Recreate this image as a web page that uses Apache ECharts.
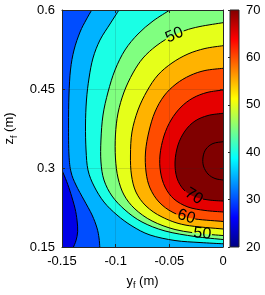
<!DOCTYPE html>
<html>
<head>
<meta charset="utf-8">
<script src="https://cdn.jsdelivr.net/npm/echarts@6/dist/echarts.min.js"></script>
<style>
  html, body { margin: 0; padding: 0; background: #fff; }
  #chart { width: 265px; height: 295px; }
</style>
</head>
<body>
<div id="chart"></div>
<script>
// filled contour of z over (y_f, z_f); band below the lowest contour is 25-30
const BASE_LEVEL = 25;
const LEVELS = [30, 35, 40, 45, 50, 55, 60, 65, 70, 75];

// contour paths as [y_f, z_f] (higher values on the left of travel)
const C30 = [[-0.15, 0.296], [-0.1456, 0.274], [-0.1419, 0.252], [-0.1379, 0.2235], [-0.136, 0.201],
  [-0.1354, 0.179], [-0.137, 0.162], [-0.1393, 0.15]];
const C35 = [[-0.1223, 0.6], [-0.1276, 0.581], [-0.1332, 0.5582], [-0.1388, 0.5241], [-0.1421, 0.4861],
  [-0.1435, 0.4386], [-0.1439, 0.3816], [-0.1435, 0.3247], [-0.1416, 0.2924], [-0.137, 0.2677],
  [-0.1295, 0.2392], [-0.122, 0.2108], [-0.1174, 0.1861], [-0.1155, 0.1671], [-0.1148, 0.15]];
const C40 = [[-0.0969, 0.6], [-0.1053, 0.5734], [-0.1146, 0.543], [-0.1211, 0.5089], [-0.1248, 0.4709],
  [-0.1272, 0.4291], [-0.1281, 0.3816], [-0.1276, 0.3342], [-0.1258, 0.2962], [-0.1202, 0.2658],
  [-0.1109, 0.2354], [-0.0988, 0.2108], [-0.0848, 0.1899], [-0.068, 0.1728], [-0.0447, 0.1623],
  [-0.0214, 0.1585], [0, 0.1561]];
const C45 = [[-0.0494, 0.6], [-0.0652, 0.5791], [-0.0792, 0.5544], [-0.0913, 0.5241], [-0.1006, 0.4861],
  [-0.1071, 0.4443], [-0.1118, 0.4006], [-0.1137, 0.3532], [-0.1137, 0.3114], [-0.1109, 0.2772],
  [-0.1034, 0.2468], [-0.0913, 0.2203], [-0.0755, 0.1975], [-0.054, 0.1804], [-0.0261, 0.1699],
  [0, 0.1642]];
const C50 = [[0, 0.5759], [-0.0214, 0.5687], [-0.0354, 0.5611], [-0.0494, 0.5487], [-0.0624, 0.5316],
  [-0.0745, 0.5089], [-0.0839, 0.4804], [-0.0922, 0.4443], [-0.0978, 0.4044], [-0.1002, 0.3627],
  [-0.1002, 0.319], [-0.0978, 0.281], [-0.0922, 0.2487], [-0.082, 0.2222], [-0.0661, 0.1994],
  [-0.0447, 0.1832], [-0.0214, 0.1756], [0, 0.1718]];
const C55 = [[0, 0.5322], [-0.0168, 0.5269], [-0.0326, 0.5165], [-0.0475, 0.4994], [-0.0606, 0.4766],
  [-0.0708, 0.4462], [-0.0792, 0.4101], [-0.0848, 0.3684], [-0.0862, 0.3247], [-0.0853, 0.2867],
  [-0.0811, 0.2544], [-0.0717, 0.2278], [-0.0568, 0.207], [-0.0354, 0.1918], [0, 0.1842]];
const C60 = [[0, 0.4893], [-0.0168, 0.4851], [-0.0307, 0.4756], [-0.0438, 0.4595], [-0.055, 0.4367],
  [-0.0634, 0.4063], [-0.0689, 0.3703], [-0.0722, 0.3304], [-0.0717, 0.2924], [-0.068, 0.262],
  [-0.0596, 0.2354], [-0.0466, 0.2156], [-0.0289, 0.2041], [0, 0.1985]];
const C65 = [[0, 0.4481], [-0.0149, 0.4434], [-0.028, 0.4329], [-0.0391, 0.4158], [-0.0484, 0.3911],
  [-0.055, 0.3608], [-0.0587, 0.3247], [-0.0582, 0.2924], [-0.054, 0.2639], [-0.0457, 0.2411],
  [-0.0326, 0.2259], [-0.0168, 0.2194], [0, 0.2165]];
const C70 = [[0, 0.4039], [-0.014, 0.3997], [-0.0261, 0.3892], [-0.0354, 0.3703], [-0.0419, 0.3437],
  [-0.0447, 0.3114], [-0.0429, 0.281], [-0.0363, 0.2582], [-0.0261, 0.2449], [-0.013, 0.2392],
  [0, 0.2373]];
const C75 = [[0, 0.3499], [-0.0093, 0.3465], [-0.0158, 0.3361], [-0.0186, 0.3209], [-0.0182, 0.3038],
  [-0.014, 0.2886], [-0.0075, 0.2801], [0, 0.2772]];
const CONTOURS = [C30, C35, C40, C45, C50, C55, C60, C65, C70, C75];

const X_RANGE = [-0.15, 0];
const Y_RANGE = [0.15, 0.6];
const CBAR_RANGE = [20, 70];

// inline contour labels: [level, position along the path in point-index units]
const LABEL_SPOTS = [[50, 2.7], [50, 16.1], [60, 11.7], [70, 7.9]];

const FONT = "'Liberation Sans', Arial, sans-serif";
const INK = "#262626";

function jet(t) {
  t = Math.max(0, Math.min(1, t));
  const c = (v) => Math.round(255 * Math.max(0, Math.min(1, v)));
  return `rgb(${c(1.5 - Math.abs(4 * t - 3))},${c(1.5 - Math.abs(4 * t - 2))},${c(1.5 - Math.abs(4 * t - 1))})`;
}
const levelColor = (l) => jet((l - CBAR_RANGE[0]) / (CBAR_RANGE[1] - CBAR_RANGE[0]));

// catmull-rom through the read points, as svg path
function smoothPath(px) {
  let d = `M${px[0][0]},${px[0][1]}`;
  for (let i = 0; i < px.length - 1; i++) {
    const p0 = px[i - 1] || px[i], p1 = px[i], p2 = px[i + 1], p3 = px[i + 2] || p2;
    d += `C${p1[0] + (p2[0] - p0[0]) / 6},${p1[1] + (p2[1] - p0[1]) / 6} ` +
      `${p2[0] - (p3[0] - p1[0]) / 6},${p2[1] - (p3[1] - p1[1]) / 6} ${p2[0]},${p2[1]}`;
  }
  return d;
}

// walk the plot frame counter-clockwise from the path end back to its start
const [X0, X1] = X_RANGE, [Y0, Y1] = Y_RANGE;
const W = X1 - X0, H = Y1 - Y0, P = 2 * (W + H);
const CORNERS = [[W, [X1, Y0]], [W + H, [X1, Y1]], [2 * W + H, [X0, Y1]], [P, [X0, Y0]]];
function perim([x, y]) {
  const e = 1e-9;
  if (Math.abs(y - Y0) < e) return x - X0;
  if (Math.abs(x - X1) < e) return W + (y - Y0);
  if (Math.abs(y - Y1) < e) return W + H + (X1 - x);
  return 2 * W + H + (Y1 - y);
}
function closingCorners(pts) {
  const t0 = perim(pts[pts.length - 1]);
  let t1 = perim(pts[0]);
  if (t1 <= t0) t1 += P;
  const out = [];
  for (let k = 0; k < 2; k++) {
    for (const [t, c] of CORNERS) {
      const tt = t + k * P;
      if (tt > t0 && tt < t1) out.push(c);
    }
  }
  return out;
}

const dist = (a, b) => Math.hypot(b[0] - a[0], b[1] - a[1]);

const chart = echarts.init(document.getElementById("chart"), null, { renderer: "canvas" });

const tickLabel = { color: "#000", fontFamily: FONT, fontSize: 13 };

chart.setOption({
  animation: false,
  backgroundColor: "#fff",
  textStyle: { fontFamily: FONT },
  grid: [
    { left: 62, right: 42, top: 10, bottom: 48, outerBoundsMode: "none" },
    { left: 230, width: 9, top: 10, bottom: 48, outerBoundsMode: "none" },
  ],
  xAxis: [
    {
      type: "value", gridIndex: 0, min: X_RANGE[0], max: X_RANGE[1], interval: 0.05, z: 5,
      axisLine: { show: true, onZero: false, lineStyle: { color: INK, width: 1 } },
      axisTick: { show: true, inside: true, length: 3, lineStyle: { color: INK } },
      axisLabel: { ...tickLabel, margin: 8, formatter: (v) => String(+v.toFixed(2)) },
      splitLine: { show: true, lineStyle: { color: "rgba(38,38,38,0.15)", width: 1 } },
      name: "{a|y}{s|f}{a| (m)}",
      nameLocation: "middle",
      nameGap: 25,
      nameTextStyle: {
        color: "#000",
        rich: {
          a: { fontSize: 13, fontFamily: FONT, color: "#000" },
          s: { fontSize: 9, fontFamily: FONT, color: "#000", padding: [9, 0, 0, 0] },
        },
      },
    },
    {
      type: "value", gridIndex: 0, position: "top", min: X_RANGE[0], max: X_RANGE[1], interval: 0.05, z: 5,
      axisLine: { show: true, onZero: false, lineStyle: { color: INK, width: 1 } },
      axisTick: { show: true, inside: true, length: 3, lineStyle: { color: INK } },
      axisLabel: { show: false },
      splitLine: { show: false },
    },
    { type: "value", gridIndex: 1, min: 0, max: 1, show: false },
  ],
  yAxis: [
    {
      type: "value", gridIndex: 0, min: Y_RANGE[0], max: Y_RANGE[1], interval: 0.15, z: 5,
      axisLine: { show: true, onZero: false, lineStyle: { color: INK, width: 1 } },
      axisTick: { show: true, inside: true, length: 3, lineStyle: { color: INK } },
      axisLabel: { ...tickLabel, margin: 7, formatter: (v) => String(+v.toFixed(2)) },
      splitLine: { show: true, lineStyle: { color: "rgba(38,38,38,0.15)", width: 1 } },
      name: "{a|z}{s|f}{a| (m)}",
      nameLocation: "middle",
      nameGap: 42,
      nameTextStyle: {
        color: "#000",
        rich: {
          a: { fontSize: 13, fontFamily: FONT, color: "#000" },
          s: { fontSize: 9, fontFamily: FONT, color: "#000", padding: [9, 0, 0, 0] },
        },
      },
    },
    {
      type: "value", gridIndex: 0, position: "right", min: Y_RANGE[0], max: Y_RANGE[1], interval: 0.15, z: 5,
      axisLine: { show: true, onZero: false, lineStyle: { color: INK, width: 1 } },
      axisTick: { show: true, inside: true, length: 3, lineStyle: { color: INK } },
      axisLabel: { show: false },
      splitLine: { show: false },
    },
    {
      type: "value", gridIndex: 1, position: "right", min: CBAR_RANGE[0], max: CBAR_RANGE[1], interval: 10, z: 5,
      axisLine: { show: false },
      axisTick: { show: true, inside: true, length: 2, lineStyle: { color: INK } },
      axisLabel: { ...tickLabel, margin: 7 },
      splitLine: { show: false },
    },
  ],
  series: [
    {
      // filled bands: each level paints the region above it
      type: "custom",
      xAxisIndex: 0,
      yAxisIndex: 0,
      clip: true,
      silent: true,
      z: 2,
      encode: { x: 0, y: 1 },
      data: [BASE_LEVEL, ...LEVELS].map((l) => [X0, Y0, l]),
      renderItem(params, api) {
        const i = params.dataIndex;
        const lvl = i === 0 ? BASE_LEVEL : LEVELS[i - 1];
        let d;
        if (i === 0) {
          const q = [[X0, Y0], [X1, Y0], [X1, Y1], [X0, Y1]].map((c) => api.coord(c));
          d = `M${q[0][0]},${q[0][1]}` + q.slice(1).map((c) => `L${c[0]},${c[1]}`).join("") + "Z";
        } else {
          const pts = CONTOURS[i - 1];
          d = smoothPath(pts.map((p) => api.coord(p))) +
            closingCorners(pts).map((c) => { const q = api.coord(c); return `L${q[0]},${q[1]}`; }).join("") + "Z";
        }
        return { type: "path", shape: { pathData: d }, style: { fill: levelColor(lvl), stroke: null } };
      },
    },
    {
      // contour lines with inline labels
      type: "custom",
      xAxisIndex: 0,
      yAxisIndex: 0,
      clip: true,
      silent: true,
      z: 3,
      encode: { x: 0, y: 1 },
      data: LEVELS.map((l) => [X0, Y0, l]),
      renderItem(params, api) {
        const lvl = LEVELS[params.dataIndex];
        const px = CONTOURS[params.dataIndex].map((p) => api.coord(p));
        const cum = [0];
        for (let i = 1; i < px.length; i++) cum.push(cum[i - 1] + dist(px[i - 1], px[i]));
        const gap = 20;
        const dash = [];
        const texts = [];
        let prev = 0;
        LABEL_SPOTS.filter((s) => s[0] === lvl).map((s) => s[1]).sort((a, b) => a - b).forEach((t) => {
          const k = Math.floor(t), f = t - k;
          const a = px[k], b = px[k + 1];
          const pos = [a[0] + (b[0] - a[0]) * f, a[1] + (b[1] - a[1]) * f];
          const s = cum[k] + dist(a, b) * f;
          let ang = Math.atan2(-(b[1] - a[1]), b[0] - a[0]);
          if (ang > Math.PI / 2) ang -= Math.PI;
          if (ang < -Math.PI / 2) ang += Math.PI;
          dash.push(Math.max(0.1, s - gap / 2 - prev), gap);
          prev = s + gap / 2;
          texts.push({
            type: "text", x: pos[0], y: pos[1], rotation: ang, z2: 10,
            style: { text: String(lvl), fill: "#000", font: `16px ${FONT}`, align: "center", verticalAlign: "middle" },
          });
        });
        if (dash.length) dash.push(100000);
        return {
          type: "group",
          children: [
            { type: "path", shape: { pathData: smoothPath(px) },
              style: { fill: null, stroke: "#000", lineWidth: 1, lineDash: dash.length ? dash : null } },
            ...texts,
          ],
        };
      },
    },
    {
      // colour bar
      type: "custom",
      xAxisIndex: 2,
      yAxisIndex: 2,
      silent: true,
      encode: { x: 0, y: 1 },
      data: [[0, CBAR_RANGE[0]]],
      renderItem(params, api) {
        const a = api.coord([0, CBAR_RANGE[1]]), b = api.coord([1, CBAR_RANGE[0]]);
        const stops = [0, 0.125, 0.375, 0.625, 0.875, 1].map((t) => ({ offset: t, color: jet(t) }));
        return {
          type: "rect",
          shape: { x: a[0], y: a[1], width: b[0] - a[0], height: b[1] - a[1] },
          style: { fill: new echarts.graphic.LinearGradient(0, 1, 0, 0, stops), stroke: INK, lineWidth: 1 },
        };
      },
    },
  ],
});
</script>
</body>
</html>
